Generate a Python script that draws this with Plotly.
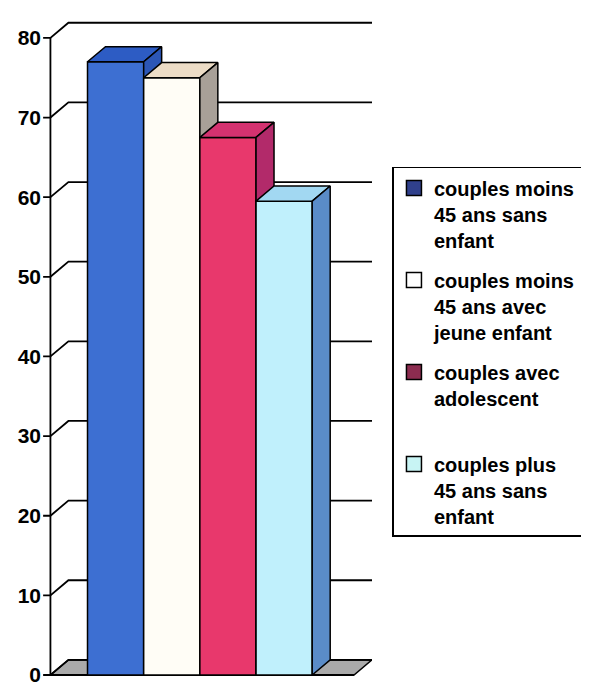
import plotly.graph_objects as go

# valeurs (en %)
categories = [
    "couples moins<br>45 ans sans<br>enfant",
    "couples moins<br>45 ans avec<br>jeune enfant",
    "couples avec<br>adolescent<br> ",
    "couples plus<br>45 ans sans<br>enfant",
]
values = [77, 75, 67.5, 59.5]
tick_vals = [0, 10, 20, 30, 40, 50, 60, 70, 80]

# couleurs des faces (avant, dessus, côté) et des carrés de légende
front_colors = ["#3d6fd2", "#fffdf6", "#e8386c", "#c0f0fc"]
top_colors = ["#2d5cc4", "#ecdcc6", "#d43270", "#a2d8f2"]
side_colors = ["#2c56b6", "#a8a098", "#b22a6a", "#5a8cc8"]
legend_colors = ["#30408c", "#ffffff", "#8c2c50", "#c8f4f4"]

FONT = "Arial, Liberation Sans, sans-serif"
EDGE = dict(color="black", width=1.5)

# géométrie pseudo-3D (unités des axes)
W = 1.0        # largeur d'une barre
GAP = 0.66     # espace entre l'axe et la première barre
DX = 0.32      # profondeur horizontale
DY = 1.9       # profondeur verticale
TICK = 0.13    # longueur des graduations
XMAX = 5.724
YMAX = 83

fig = go.Figure()


def poly(xs, ys, fill, line=EDGE):
    fig.add_trace(go.Scatter(
        x=xs + [xs[0]], y=ys + [ys[0]], mode="lines", fill="toself",
        fillcolor=fill, line=line, showlegend=False, hoverinfo="skip",
    ))


def seg(xs, ys, width=1.5):
    fig.add_trace(go.Scatter(
        x=xs, y=ys, mode="lines", line=dict(color="black", width=width),
        showlegend=False, hoverinfo="skip",
    ))


# sol
poly([0, DX, XMAX, XMAX - DX], [0, DY, DY, 0], "#aaaaaa")

# quadrillage du fond + diagonales + graduations sur l'axe avant
for v in tick_vals:
    seg([-TICK, 0, DX, XMAX], [v, v, v + DY, v + DY], width=1.8)

# axe avant
seg([0, 0], [0, tick_vals[-1]], width=1.8)
seg([0, XMAX - DX], [0, 0], width=1.8)

# barres
for i, v in enumerate(values):
    L = GAP + i * W
    R = L + W
    poly([L, R, R, L], [0, 0, v, v], front_colors[i])
    poly([L, R, R + DX, L + DX], [v, v, v + DY, v + DY], top_colors[i])
    poly([R, R + DX, R + DX, R], [0, DY, v + DY, v], side_colors[i])

# entrées de légende
for i, name in enumerate(categories):
    fig.add_trace(go.Scatter(
        x=[None], y=[None], mode="markers", name=name, legendgroup=f"g{i}",
        marker=dict(symbol="square", size=15, color=legend_colors[i],
                    line=dict(color="black", width=1.5)),
    ))

# la page ajoute 8 px de marge autour du graphique : on compense ici
fig.update_layout(
    width=589, height=683,
    margin=dict(l=34, r=225, t=6, b=12),
    paper_bgcolor="white", plot_bgcolor="white",
    font=dict(family=FONT, color="black", size=20, weight="bold"),
    xaxis=dict(range=[-0.15, XMAX], showgrid=False, zeroline=False,
               showticklabels=False, ticks="", showline=False, fixedrange=True),
    yaxis=dict(range=[-0.5, YMAX], showgrid=False, zeroline=False,
               showline=False, tickvals=tick_vals, ticks="",
               tickfont=dict(family=FONT, size=21, weight="bold"),
               automargin=False, fixedrange=True),
    legend=dict(
        x=1.062, y=0.77, xanchor="left", yanchor="top",
        bgcolor="white", bordercolor="black", borderwidth=1.5,
        font=dict(family=FONT, size=20, weight="bold"),
        valign="top", tracegroupgap=11, itemwidth=30,
    ),
    showlegend=True,
)

fig.write_html("out.html")
